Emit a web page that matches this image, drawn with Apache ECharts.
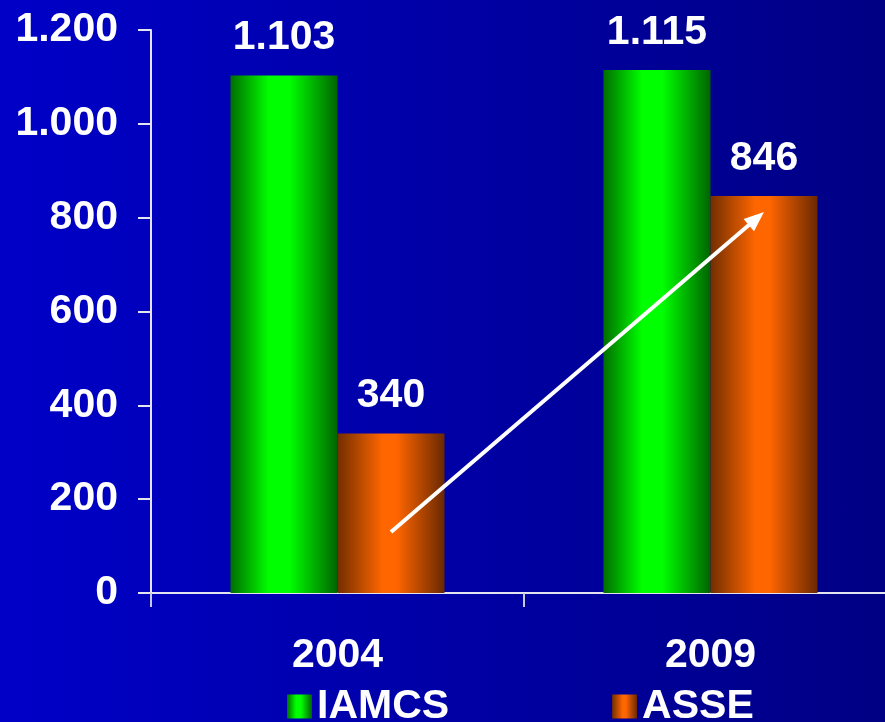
<!DOCTYPE html>
<html><head><meta charset="utf-8">
<script src="https://cdn.jsdelivr.net/npm/echarts@6/dist/echarts.min.js"></script>
<style>
html,body{margin:0;padding:0;width:885px;height:722px;overflow:hidden;background:linear-gradient(to right,#0000c8,#000084);}
#c{width:900px;height:722px}
</style>
</head><body><div id="c"></div>
<script>
// ---- data ----
const categories = ['2004', '2009'];
const seriesNames = ['IAMCS', 'ASSE'];
const iamcsValues = [1103, 1115];
const asseValues = [340, 846];
const yMin = 0, yMax = 1200, yInterval = 200;
// arrow annotation endpoints (category, value) on the ASSE bars
const arrowFrom = ['2004', 130];
const arrowTo = ['2009', 812];

function fmt(v) { return String(v).replace(/\B(?=(\d{3})+(?!\d))/g, '.'); }

const FONT = '"Liberation Sans", Arial, sans-serif';
const greenGrad = {type:'linear', x:0, y:0, x2:1, y2:0, colorStops:[
  {offset:0, color:'#006e00'}, {offset:0.36, color:'#00ff00'}, {offset:0.55, color:'#00ff00'}, {offset:1, color:'#006400'}]};
const orangeGrad = {type:'linear', x:0, y:0, x2:1, y2:0, colorStops:[
  {offset:0, color:'#722e00'}, {offset:0.42, color:'#ff6600'}, {offset:0.55, color:'#ff6600'}, {offset:1, color:'#6a2800'}]};

const chart = echarts.init(document.getElementById('c'), null, {renderer:'canvas'});
const BAR_W = 107;
const labelStyle = {show:true, position:'top', distance:17, color:'#fff', fontFamily:FONT, fontWeight:'bold', fontSize:41,
  formatter: p => fmt(p.value)};

chart.setOption({
  backgroundColor: 'transparent',
  animation: false,
  grid: {left:151, top:30, bottom:129, right:3, containLabel:false},
  legend: {
    data: seriesNames, left: 287, top: 686, padding: 0, itemGap: 163,
    itemWidth: 25, itemHeight: 24, icon: 'rect',
    textStyle: {color:'#fff', fontFamily:FONT, fontWeight:'bold', fontSize:41}
  },
  xAxis: {
    type:'category', data: categories,
    axisLine: {lineStyle:{color:'#e4e4f0', width:2}},
    axisTick: {show:true, length:14, lineStyle:{color:'#c8c8e0', width:2}},
    axisLabel: {color:'#fff', fontFamily:FONT, fontWeight:'bold', fontSize:41, margin:42}
  },
  yAxis: {
    type:'value', min:yMin, max:yMax, interval:yInterval,
    splitLine:{show:false},
    axisLine: {show:true, lineStyle:{color:'#e4e4f0', width:2}},
    axisTick: {show:true, length:13, lineStyle:{color:'#e4e4f0', width:2}},
    axisLabel: {color:'#fff', fontFamily:FONT, fontWeight:'bold', fontSize:41, margin:33, formatter: v => fmt(v)}
  },
  series: [
    {name: seriesNames[0], type:'bar', data: iamcsValues, barWidth: BAR_W, barGap:'0%',
     itemStyle:{color: greenGrad}, label: labelStyle},
    {name: seriesNames[1], type:'bar', data: asseValues, barWidth: BAR_W, barGap:'0%',
     itemStyle:{color: orangeGrad}, label: labelStyle}
  ]
});

// arrow annotation, positioned through the chart's own scales
const p0 = chart.convertToPixel({gridIndex:0}, arrowFrom);
const p1 = chart.convertToPixel({gridIndex:0}, arrowTo);
const off = BAR_W / 2;
const x0 = p0[0] + off, y0 = p0[1], x1 = p1[0] + off, y1 = p1[1];
const dx = x1 - x0, dy = y1 - y0, L = Math.hypot(dx, dy), ux = dx / L, uy = dy / L;
const headLen = 20, headHalf = 8;
const bx = x1 - ux * headLen, by = y1 - uy * headLen;
chart.setOption({
  graphic: [
    {type:'line', shape:{x1:x0, y1:y0, x2:bx + ux*2, y2:by + uy*2}, style:{stroke:'#fff', lineWidth:4}, z:100},
    {type:'polygon', shape:{points:[[x1, y1], [bx - uy*headHalf, by + ux*headHalf], [bx + uy*headHalf, by - ux*headHalf]]},
     style:{fill:'#fff'}, z:100}
  ]
});
</script>
</body></html>
